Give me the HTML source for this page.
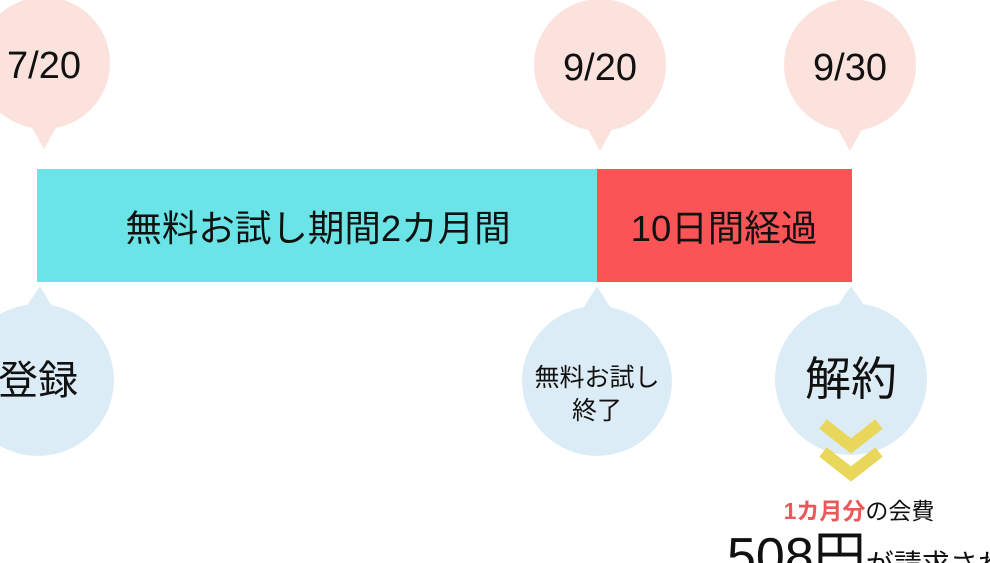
<!DOCTYPE html>
<html><head><meta charset="utf-8"><style>
html,body{margin:0;padding:0;background:#fff;width:990px;height:563px;overflow:hidden}
svg text{font-family:"Liberation Sans","Noto Sans CJK JP",sans-serif;fill:#111}
</style></head><body>
<svg width="990" height="563" viewBox="0 0 990 563" xmlns="http://www.w3.org/2000/svg">
<g fill="#fbe2dc">
<circle cx="44" cy="63" r="66"/><path d="M30 124 L44 149 L58 124Z"/>
<circle cx="600" cy="65" r="66"/><path d="M586 126 L600 151 L614 126Z"/>
<circle cx="850" cy="65" r="66"/><path d="M836 126 L850 151 L864 126Z"/>
</g>
<g fill="#dcecf7">
<circle cx="38" cy="380" r="76"/><path d="M24 310 L40 286 L54 310Z"/>
<circle cx="597" cy="381" r="75"/><path d="M582 310 L597 286 L612 310Z"/>
<circle cx="851" cy="379" r="76"/><path d="M836 308 L851 286 L866 308Z"/>
</g>
<rect x="37" y="169" width="560" height="113" fill="#6ae4e6"/>
<rect x="597" y="169" width="255" height="113" fill="#fa5456"/>
<text x="44" y="78" font-size="38" text-anchor="middle">7/20</text>
<text x="600" y="80" font-size="38" text-anchor="middle">9/20</text>
<text x="850" y="80" font-size="38" text-anchor="middle">9/30</text>
<text x="318" y="241" font-size="36.5" text-anchor="middle">無料お試し期間2カ月間</text>
<text x="724" y="241" font-size="36.5" text-anchor="middle">10日間経過</text>
<text x="38" y="394" font-size="40" text-anchor="middle">登録</text>
<text x="597" y="386" font-size="25" text-anchor="middle">無料お試し</text>
<text x="597" y="419" font-size="25" text-anchor="middle">終了</text>
<text x="851" y="395" font-size="46" text-anchor="middle">解約</text>
<g fill="none" stroke="#e8d75a" stroke-width="12">
<path d="M823 424 L851 446 L879 424"/>
<path d="M823 452 L851 474 L879 452"/>
</g>
<text x="859" y="519" font-size="23" text-anchor="middle"><tspan fill="#e85a5a" font-weight="bold">1カ月分</tspan>の会費</text>
<text x="727" y="574" font-size="52">508円<tspan font-size="28">が請求される</tspan></text>
</svg>
</body></html>
